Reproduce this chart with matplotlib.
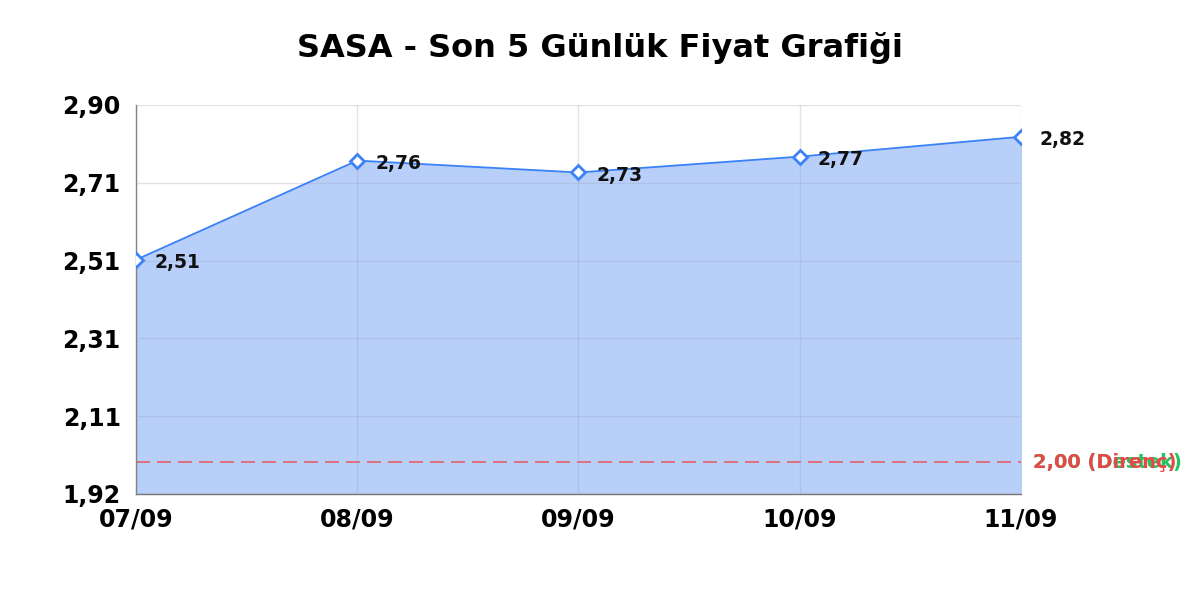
import matplotlib
matplotlib.use("Agg")
import matplotlib.pyplot as plt
import numpy as np

# veriler
dates = ["07/09", "08/09", "09/09", "10/09", "11/09"]
prices = [2.51, 2.76, 2.73, 2.77, 2.82]
price_labels = ["2,51", "2,76", "2,73", "2,77", "2,82"]
support = 2.00
resistance = 2.00
y_ticks = [1.92, 2.116, 2.312, 2.508, 2.704, 2.90]
y_tick_labels = ["1,92", "2,11", "2,31", "2,51", "2,71", "2,90"]

plt.rcParams['font.family'] = ['DejaVu Sans']

fig = plt.figure(figsize=(12, 6), dpi=100)
ax = fig.add_axes([0.1133, 0.1767, 0.7375, 0.6483])

x = np.arange(len(dates))
ax.fill_between(x, prices, y_ticks[0], color="#b7cff9", zorder=1)
ax.plot(x, prices, color="#3b82f6", lw=1.3, zorder=3,
        marker="D", markersize=7, markerfacecolor="white",
        markeredgecolor="#3b82f6", markeredgewidth=2)

for xi, p, lab in zip(x, prices, price_labels):
    ax.annotate(lab, (xi, p), xytext=(13, -2), textcoords="offset points",
                ha="left", va="center", fontsize=13.5, fontweight="bold",
                color="#111111", zorder=4)

# destek / direnc cizgileri
ax.axhline(support, color="#22c55e", lw=1.2, ls=(0, (8.4, 4.2)), zorder=0.5)
ax.axhline(resistance, color="#ef4444", lw=1.2, ls=(0, (8.4, 4.2)), alpha=0.8, zorder=2)
ax.annotate("2,00 (Destek)", (1, support), xycoords=("axes fraction", "data"),
            xytext=(9, 0), textcoords="offset points", ha="left", va="center",
            fontsize=14, fontweight="bold", color="#22c55e")
ax.annotate("2,00 (Direnç)", (1, resistance), xycoords=("axes fraction", "data"),
            xytext=(9, 0), textcoords="offset points", ha="left", va="center",
            fontsize=14, fontweight="bold", color="#e64848")

ax.set_xlim(0, len(dates) - 1)
ax.set_ylim(y_ticks[0], y_ticks[-1])
ax.set_xticks(x)
ax.set_xticklabels(dates)
ax.set_yticks(y_ticks)
ax.set_yticklabels(y_tick_labels)
ax.tick_params(axis="both", length=0, labelsize=17)
for lab in ax.get_xticklabels() + ax.get_yticklabels():
    lab.set_fontweight("bold")
ax.tick_params(axis="y", pad=11)
ax.tick_params(axis="x", pad=10)

ax.grid(True, color="#9aa5b8", alpha=0.3, lw=1, zorder=2)
ax.set_axisbelow(False)
for s in ["top", "right"]:
    ax.spines[s].set_visible(False)
for s in ["left", "bottom"]:
    ax.spines[s].set_color("#777777")
    ax.spines[s].set_linewidth(1)

fig.text(0.5, 0.92, "SASA - Son 5 Günlük Fiyat Grafiği", ha="center", va="center",
         fontsize=23, fontweight="bold")

fig.savefig("out.png", dpi=100)
